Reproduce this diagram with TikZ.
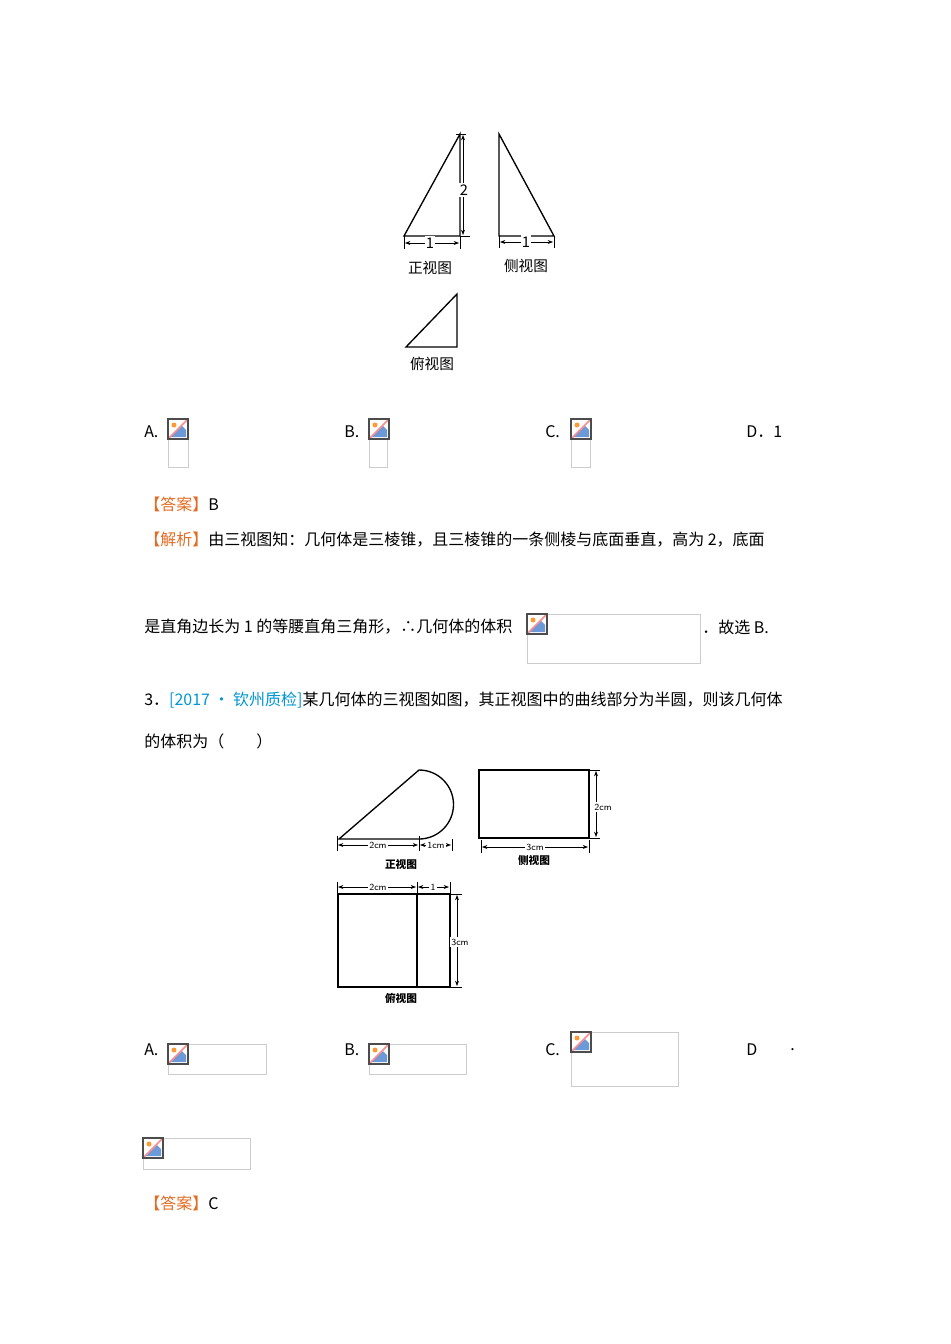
\documentclass[tikz,border=0pt]{standalone}
\usepackage{fontspec}
\setmainfont{Liberation Serif}
\newfontfamily\cjk{Noto Sans CJK SC}
\usetikzlibrary{arrows.meta}
\definecolor{ans}{RGB}{226,108,36}
\definecolor{src}{RGB}{0,150,210}
\begin{document}
\begin{tikzpicture}[x=0.75pt,y=-0.75pt,
  txt/.style={anchor=west,inner sep=0pt,font=\cjk\fontsize{12}{12}\selectfont},
  lab/.style={inner sep=0pt,font=\cjk\fontsize{11}{11}\selectfont},
  sml/.style={inner sep=0pt,font=\sffamily\fontsize{7}{7}\selectfont},
  fig/.style={line width=1pt},
  dim/.style={line width=0.5pt,{Stealth[length=4pt]}-{Stealth[length=4pt]}},
  ext/.style={line width=0.5pt}]
\useasboundingbox (0,0) rectangle (950,1344);
\newcommand{\broken}[4]{%
  \draw[gray!40,line width=0.6pt] (#1,#2) rectangle ++(#3,#4);
  \fill[white] (#1,#2) rectangle ++(20,20);
  \fill[cyan!50!blue!60] (#1+2,#2+18) -- (#1+14,#2+7) -- (#1+18,#2+11) -- (#1+18,#2+18) -- cycle;
  \fill[orange!80] (#1+6,#2+6) circle (2.5);
  \draw[red!45,line width=1.2pt] (#1+1,#2+19) -- (#1+19,#2+1);
  \draw[black!70,line width=0.8pt] (#1,#2) rectangle ++(20,20);}
% ---- figure 1
\draw[fig] (404,236) -- (460,134) -- (460,236) -- cycle;
\draw[ext] (460,236) -- (470,236) (456,134) -- (466,134);
\draw[dim] (463,135) -- (463,235);
\node[lab,fill=white,inner sep=1pt] (h2) at (464,190) {2};
\draw[ext] (404,236) -- (404,249) (460,236) -- (460,249);
\draw[dim] (405,243) -- (459,243);
\node[lab,fill=white,inner sep=1pt] (w1) at (430,243) {1};
\node[lab] (fv1) at (430,268) {正视图};
\draw[fig] (499,134) -- (499,236) -- (554,236) -- cycle;
\draw[ext] (499,236) -- (499,248) (554,236) -- (554,248);
\draw[dim] (500,242) -- (553,242);
\node[lab,fill=white,inner sep=1pt] (w2) at (526,242) {1};
\node[lab] (sv1) at (526,266) {侧视图};
\draw[fig] (406,347) -- (457,294) -- (457,347) -- cycle;
\node[lab] (tv1) at (432,364) {俯视图};
% ---- choices 1
\node[txt] (a1) at (144,432) {A.};
\node[txt] (b1) at (344,432) {B.};
\node[txt] (c1) at (545,432) {C.};
\node[txt] (d1) at (746,432) {D．1};
\broken{168}{419}{20}{48}
\broken{369}{419}{18}{48}
\broken{571}{419}{19}{48}
\node[txt] (ans1) at (144,504) {\textcolor{ans}{【答案】}B};
\node[txt] (ex1) at (144,540) {\textcolor{ans}{【解析】}由三视图知：几何体是三棱锥，且三棱锥的一条侧棱与底面垂直，高为 2，底面};
\node[txt] (ex2) at (144,627) {是直角边长为 1 的等腰直角三角形，∴几何体的体积};
\broken{527}{614}{173}{49}
\node[txt] (ex3) at (702,627) {．故选 B.};
\node[txt] (q3) at (144,700) {3．\textcolor{src}{[2017 • 钦州质检]}某几何体的三视图如图，其正视图中的曲线部分为半圆，则该几何体};
\node[txt] (q3b) at (144,741) {的体积为（　　）};
% ---- figure 2 front
\draw[fig] (420,839) -- (339,839) -- (419,770) arc[start angle=-90,end angle=90,radius=34.5];
\draw[ext] (337,836) -- (337,851) (419,836) -- (419,851) (452,839) -- (452,851);
\draw[dim] (338,845) -- (418,845);
\node[sml,fill=white,inner sep=1pt] (d2a) at (378,845) {2cm};
\draw[dim] (420,845) -- (451,845);
\node[sml,fill=white,inner sep=1pt] (d2b) at (436,845) {1cm};
\node[lab,font=\cjk\bfseries\fontsize{8}{8}\selectfont] (fv2) at (401,864) {正视图};
% side
\draw[fig] (479,770) rectangle (589,838);
\draw[ext] (589,770) -- (600,770) (589,838) -- (600,838);
\draw[dim] (596,771) -- (596,837);
\node[sml,fill=white,inner sep=1pt] (d2c) at (603,807) {2cm};
\draw[ext] (481,840) -- (481,853) (589,840) -- (589,853);
\draw[dim] (482,847) -- (588,847);
\node[sml,fill=white,inner sep=1pt] (d2d) at (535,847) {3cm};
\node[lab,font=\cjk\bfseries\fontsize{8}{8}\selectfont] (sv2) at (534,860) {侧视图};
% top
\draw[fig] (338,894) rectangle (450,987);
\draw[fig] (417,894) -- (417,987);
\draw[ext] (337,882) -- (337,894) (417,882) -- (417,894) (450,882) -- (450,894);
\draw[dim] (338,887) -- (416,887);
\node[sml,fill=white,inner sep=1pt] (d2e) at (378,887) {2cm};
\draw[dim] (418,887) -- (449,887);
\node[sml,fill=white,inner sep=1pt] (d2f) at (433,887) {1};
\draw[ext] (450,894) -- (462,894) (450,987) -- (462,987);
\draw[dim] (457,895) -- (457,986);
\node[sml,fill=white,inner sep=1pt] (d2g) at (460,942) {3cm};
\node[lab,font=\cjk\bfseries\fontsize{8}{8}\selectfont] (tv2) at (401,998) {俯视图};
% ---- choices 2
\node[txt] (a2) at (144,1050) {A.};
\node[txt] (b2) at (344,1050) {B.};
\node[txt] (c2) at (545,1050) {C.};
\node[txt] (dd2) at (746,1050) {D};
\node[txt] (dot2) at (790,1050) {.};
\broken{168}{1044}{98}{30}
\broken{369}{1044}{97}{30}
\broken{571}{1032}{107}{54}
\broken{143}{1138}{107}{31}
\node[txt] (ans2) at (144,1203) {\textcolor{ans}{【答案】}C};
\end{tikzpicture}
\end{document}
